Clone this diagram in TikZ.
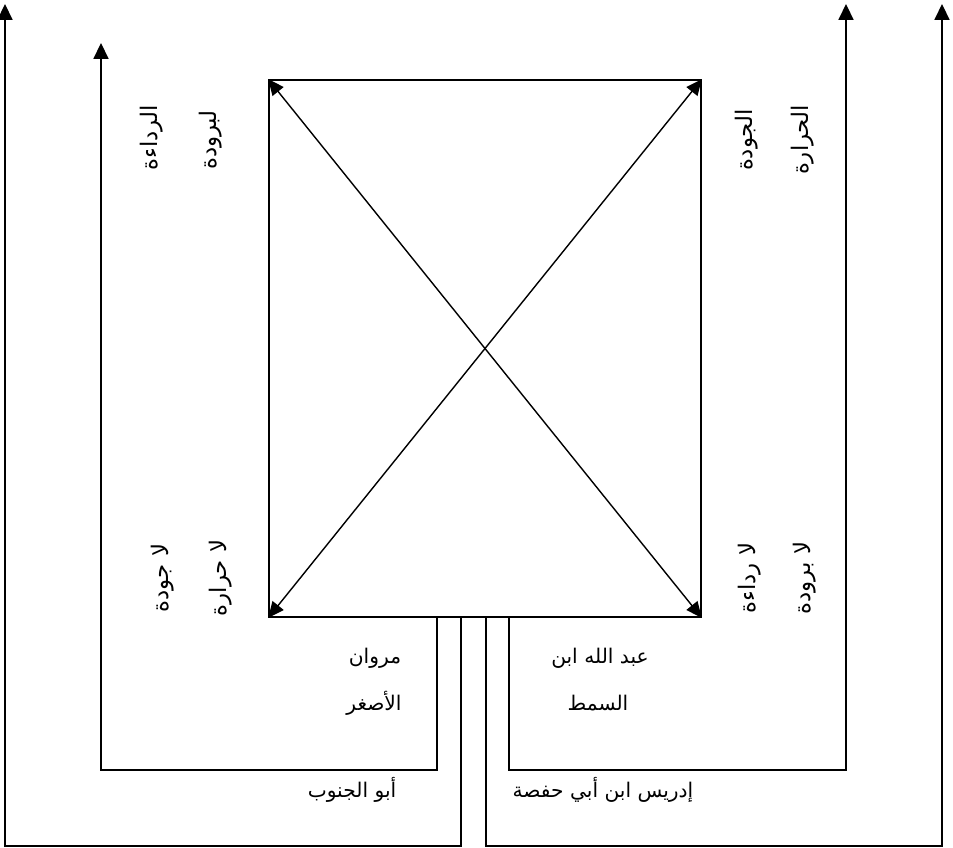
\documentclass[tikz,border=0pt]{standalone}
\usepackage{fontspec}
\newfontfamily\arabicfont[Script=Arabic]{DejaVu Sans}
\TeXXeTstate=1
\usetikzlibrary{arrows.meta, fit}

\newcommand{\arabtxt}[1]{\arabicfont\beginR #1\endR}

\begin{document}
\begin{tikzpicture}[x=0.02cm, y=-0.02cm,
  frame/.style={draw, line width=0.9pt, inner sep=0pt},
  arr/.style={-{Triangle[length=9pt, width=8.5pt]}, line width=0.9pt},
  twoway/.style={{Triangle[length=9pt, width=8pt]}-{Triangle[length=9pt, width=8pt]},
                 line width=0.8pt},
  lbl/.style={font=\fontsize{11.5}{14}\selectfont, inner sep=1pt},
  vlbl/.style={font=\fontsize{13}{15}\selectfont, inner sep=1pt, rotate=90},
]
\useasboundingbox (0,0) rectangle (953,848);

% the square
\coordinate (tl) at (269,80);
\coordinate (br) at (701,617);
\node[frame, fit=(tl)(br)] (box) {};
\draw[twoway] (box.north west) -- (box.south east);
\draw[twoway] (box.south west) -- (box.north east);

% feet of the four lines under the square
\coordinate (fA) at (437,617);
\coordinate (fB) at (461,617);
\coordinate (fC) at (486,617);
\coordinate (fD) at (509,617);
% bends
\coordinate (bA) at (101,770);
\coordinate (bB) at (5,846);
\coordinate (bC) at (942,846);
\coordinate (bD) at (846,770);
% tips
\coordinate (tA) at (101,43);
\coordinate (tB) at (5,4);
\coordinate (tC) at (942,4);
\coordinate (tD) at (846,4);

\draw[arr] (fA) |- (bA) -- (tA);
\draw[arr] (fB) |- (bB) -- (tB);
\draw[arr] (fC) |- (bC) -- (tC);
\draw[arr] (fD) |- (bD) -- (tD);

% names under the square
\node[lbl] (marwan) at (375,658) {\arabtxt{مروان}};
\node[lbl] (asghar) at (374,703) {\arabtxt{الأصغر}};
\node[lbl] (abdallah) at (600,658) {\arabtxt{عبد الله ابن}};
\node[lbl] (samt) at (598,703) {\arabtxt{السمط}};
\node[lbl] (janub) at (352,790) {\arabtxt{أبو الجنوب}};
\node[lbl] (idris) at (603,790) {\arabtxt{إدريس ابن أبي حفصة}};

% qualities beside the corners
\node[vlbl] (radaa) at (152,138) {\arabtxt{الرداءة}};
\node[vlbl] (buruda) at (211,140) {\arabtxt{لبرودة}};
\node[vlbl] (jawda) at (747,140) {\arabtxt{الجودة}};
\node[vlbl] (harara) at (803,140) {\arabtxt{الحرارة}};
\node[vlbl] (lajawda) at (163,578) {\arabtxt{لا جودة}};
\node[vlbl] (laharara) at (221,578) {\arabtxt{لا حرارة}};
\node[vlbl] (laradaa) at (750,578) {\arabtxt{لا رداءة}};
\node[vlbl] (laburuda) at (805,578) {\arabtxt{لا برودة}};
\end{tikzpicture}
\end{document}
